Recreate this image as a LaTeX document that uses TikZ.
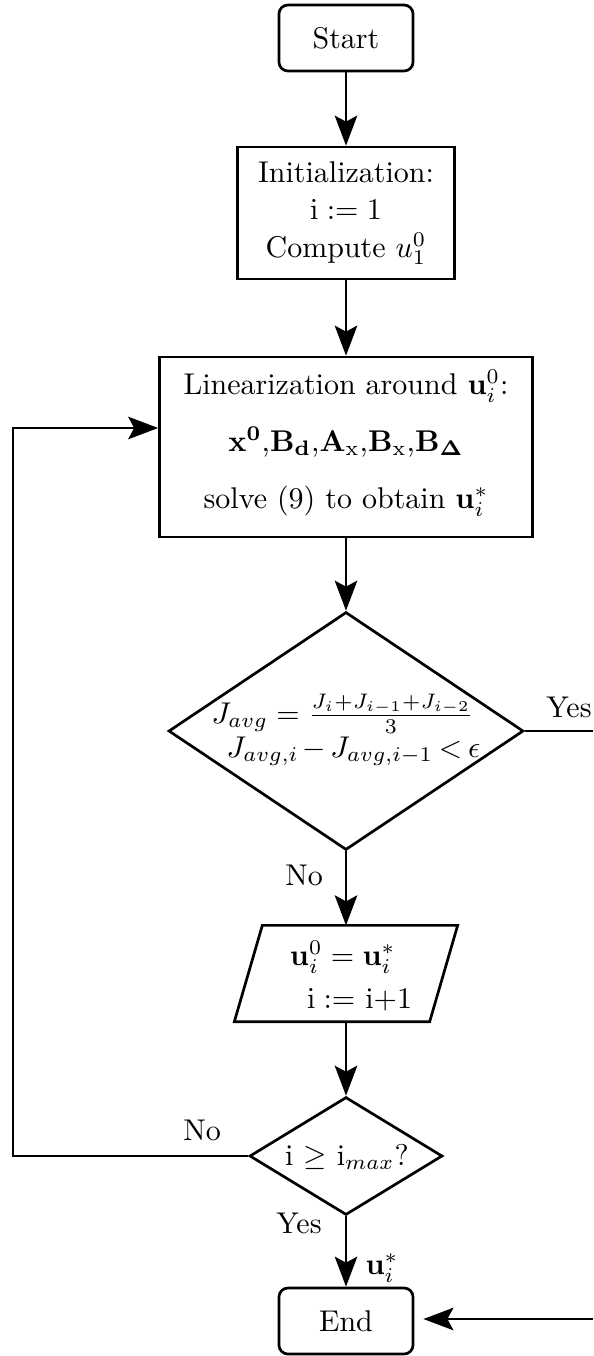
\documentclass[tikz,border=0pt]{standalone}
\usepackage{amsmath}
\usetikzlibrary{shapes.geometric,arrows.meta,calc}
\begin{document}
\begin{tikzpicture}[x=0.3333pt,y=-0.3333pt,
  box/.style={draw, line width=0.9pt, inner sep=0pt, align=center},
  term/.style={box, rounded corners=3pt, minimum width=44.7pt, minimum height=22pt},
  dec/.style={draw, diamond, line width=0.9pt, inner sep=0pt},
  arr/.style={line width=0.8pt, -{Stealth[length=10pt,width=7.5pt,inset=2pt]}},
  lbl/.style={inner sep=0pt}]
\useasboundingbox (0,0) rectangle (593,1356);

\node[term] (start) at (346,38) {Start};
\node[box, minimum width=72.3pt, minimum height=44pt] (init) at (346,213)
  {Initialization:\\[0.5pt] $\mathrm{i} := 1$\\[0.5pt] Compute $u_1^0$};
\node[box, minimum width=124.3pt, minimum height=60pt] (lin) at (346,447) {};
\node[align=center, inner sep=0pt] (lint) at (346,443)
  {Linearization around $\mathbf{u}_i^0$:\\[7pt]
   $\mathbf{x^0}$,$\mathbf{B_d}$,$\mathbf{A}_{\mathrm{x}}$,$\mathbf{B}_{\mathrm{x}}$,$\mathbf{B_\Delta}$\\[7pt]
   solve (9) to obtain $\mathbf{u}_i^*$};

\node[dec, minimum width=118.3pt, minimum height=79.3pt] (d1) at (346,731) {};
\node[align=left, inner sep=0pt] (d1t) at (346,730)
  {$J_{avg} = \frac{J_i+J_{i-1}+J_{i-2}}{3}$\\[-0.7pt]
   \hspace*{5pt}{\medmuskip=2.5mu \thickmuskip=3.5mu $J_{avg,i} - J_{avg,i-1} < \epsilon$}};

\node[minimum width=64.7pt, minimum height=31.7pt, inner sep=0pt] (para) at (346,973.5) {};
\draw[line width=0.9pt] ($(para.north west)+(14,0)$) -- ($(para.north east)+(14,0)$)
  -- ($(para.south east)+(-14,0)$) -- ($(para.south west)+(-14,0)$) -- cycle;
\node[align=left, inner sep=0pt] (parat) at (351,976)
  {$\mathbf{u}_i^0 = \mathbf{u}_i^*$\\[2.3pt] \hspace*{5.7pt}$\mathrm{i} :=$ i+1};

\node[dec, minimum width=64.3pt, minimum height=39.3pt] (d2) at (346,1156) {};
\node[inner sep=0pt] (d2t) at (347,1157) {i $\geq$ i$_{max}$?};

\node[term] (end) at (346,1321) {End};

\draw[arr] (start.south) -- (init.north);
\draw[arr] (init.south) -- (lin.north);
\draw[arr] (lin.south) -- (d1.north);
\draw[arr] (d1.south) -- (para.north);
\draw[arr] (para.south) -- (d2.north);
\draw[arr] (d2.south) -- (end.north);

\coordinate (lc) at (13,428);
\draw[arr] (d2.west) -| (lc) -- (lc -| lin.west);

\coordinate (yr) at (593,731);
\draw[line width=0.55pt] (d1.east) -- (yr);

\coordinate (er) at (593,1319);
\draw[arr, shorten >=3pt] (er) -- (er -| end.east);

\node[lbl] (no1) at (304,875) {No};
\node[lbl] (yes1) at (569,707) {Yes};
\node[lbl] (no2) at (202,1130) {No};
\node[lbl] (yes2) at (299,1223) {Yes};
\node[lbl] (ustar) at (382,1268) {$\mathbf{u}_i^*$};
\end{tikzpicture}
\end{document}
